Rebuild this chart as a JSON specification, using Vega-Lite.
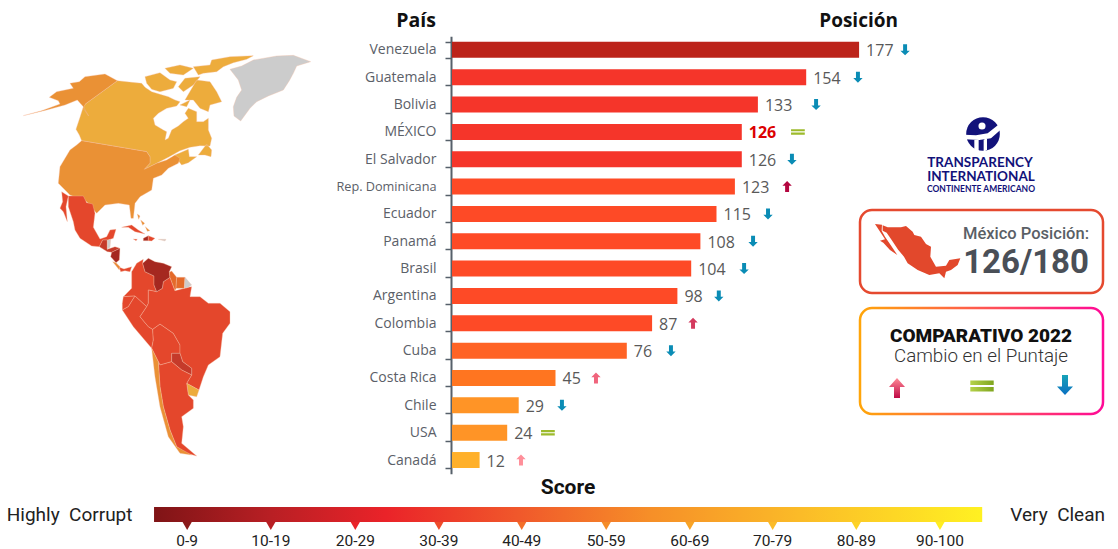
{
"$schema":"https://vega.github.io/schema/vega-lite/v6.json",
"width":1118,"height":549,"autosize":{"type":"none"},"padding":0,"background":"white",
"config":{"view":{"stroke":null}},
"resolve":{"scale":{"x":"independent","y":"independent","color":"independent","shape":"independent"}},
"layer":[
{"data":{"values":[
{"type":"Feature","properties":{"nombre":"Groenlandia","tono":"s/d"},"geometry":{"type":"Polygon","coordinates":[[[690,88],[725,78],[760,60],[830,48],[880,46],[932,65],[890,78],[880,100],[868,122],[850,150],[805,168],[770,185],[750,205],[722,243],[702,228],[700,200],[710,172],[725,150],[715,120],[690,88]]]}},
{"type":"Feature","properties":{"nombre":"Canadá","tono":"70-79"},"geometry":{"type":"MultiPolygon","coordinates":[
[[[352,122],[395,127],[425,130],[435,142],[455,155],[480,163],[505,170],[525,180],[540,185],[530,198],[500,205],[475,220],[460,235],[465,255],[490,270],[500,275],[495,300],[505,295],[515,270],[535,258],[550,245],[565,235],[555,220],[565,205],[590,215],[590,245],[610,245],[625,235],[625,270],[635,295],[630,318],[600,317],[570,322],[540,332],[505,352],[470,370],[433,388],[450,370],[450,350],[440,335],[245,302],[238,285],[228,268],[240,232],[250,200],[256,192],[352,122]]],
[[[525,345],[565,328],[568,350],[590,350],[565,368],[545,375],[535,362],[525,345]]],
[[[595,345],[620,312],[635,330],[633,350],[615,345],[595,345]]],
[[[435,110],[480,98],[510,120],[530,125],[520,145],[480,155],[455,148],[440,130],[435,110]]],
[[[495,85],[540,75],[580,85],[550,105],[510,100],[495,85]]],
[[[555,115],[600,110],[580,135],[550,155],[535,140],[555,115]]],
[[[590,120],[630,125],[650,155],[665,185],[630,195],[625,215],[600,205],[580,180],[555,180],[590,120]]],
[[[540,195],[570,180],[560,200],[540,195]]],
[[[580,80],[630,75],[635,60],[690,50],[760,47],[740,58],[700,68],[670,80],[650,95],[610,100],[595,105],[580,80]]]
]}},
{"type":"Feature","properties":{"nombre":"Alaska","tono":"60-69"},"geometry":{"type":"Polygon","coordinates":[[[352,122],[315,102],[255,110],[238,125],[210,130],[220,145],[170,155],[148,172],[175,182],[180,192],[125,212],[70,227],[140,210],[195,195],[232,180],[250,200],[266,228],[250,205],[256,192],[352,122]]]}},
{"type":"Feature","properties":{"nombre":"USA","tono":"60-69"},"geometry":{"type":"Polygon","coordinates":[[[245,302],[440,335],[450,350],[450,370],[433,388],[470,370],[500,360],[525,345],[540,355],[535,370],[505,385],[485,405],[460,415],[455,450],[420,470],[405,490],[400,535],[393,535],[388,495],[355,490],[315,495],[290,520],[260,485],[210,465],[175,430],[180,380],[210,330],[230,315],[245,302]]]}},
{"type":"Feature","properties":{"nombre":"México","tono":"30-39"},"geometry":{"type":"MultiPolygon","coordinates":[[[[205,468],[250,468],[260,488],[278,492],[285,520],[280,562],[300,597],[320,590],[330,570],[348,568],[340,595],[325,600],[308,600],[298,620],[275,618],[240,595],[225,570],[220,545],[205,500],[205,468]]],[[[185,455],[205,468],[198,500],[202,545],[190,515],[180,505],[188,485],[185,455]]]]}},
{"type":"Feature","properties":{"nombre":"Guatemala","tono":"20-29"},"geometry":{"type":"Polygon","coordinates":[[[298,620],[308,600],[322,600],[322,628],[345,620],[360,625],[335,637],[322,635],[298,620]]]}},
{"type":"Feature","properties":{"nombre":"Belice","tono":"s/d"},"geometry":{"type":"Polygon","coordinates":[[[322,600],[332,598],[330,622],[322,628],[322,600]]]}},
{"type":"Feature","properties":{"nombre":"Nicaragua","tono":"10-19"},"geometry":{"type":"Polygon","coordinates":[[[335,637],[360,625],[358,660],[348,668],[332,650],[335,637]]]}},
{"type":"Feature","properties":{"nombre":"Costa Rica","tono":"50-59"},"geometry":{"type":"Polygon","coordinates":[[[338,665],[348,668],[360,680],[358,690],[338,665]]]}},
{"type":"Feature","properties":{"nombre":"Panamá","tono":"30-39"},"geometry":{"type":"Polygon","coordinates":[[[358,682],[372,687],[395,680],[390,695],[375,692],[362,695],[358,682]]]}},
{"type":"Feature","properties":{"nombre":"Cuba","tono":"30-39"},"geometry":{"type":"Polygon","coordinates":[[[365,562],[395,555],[415,570],[435,582],[405,575],[385,562],[365,562]]]}},
{"type":"Feature","properties":{"nombre":"Jamaica","tono":"30-39"},"geometry":{"type":"Polygon","coordinates":[[[400,597],[412,598],[408,602],[400,597]]]}},
{"type":"Feature","properties":{"nombre":"Haití","tono":"10-19"},"geometry":{"type":"Polygon","coordinates":[[[430,595],[445,587],[445,602],[430,602],[430,595]]]}},
{"type":"Feature","properties":{"nombre":"Rep. Dominicana","tono":"30-39"},"geometry":{"type":"Polygon","coordinates":[[[445,587],[465,595],[455,603],[445,602],[445,587]]]}},
{"type":"Feature","properties":{"nombre":"Puerto Rico","tono":"s/d"},"geometry":{"type":"Polygon","coordinates":[[[475,598],[498,598],[495,603],[475,598]]]}},
{"type":"Feature","properties":{"nombre":"Bahamas","tono":"60-69"},"geometry":{"type":"MultiPolygon","coordinates":[[[[412,522],[420,528],[416,538],[412,522]]],[[[422,540],[434,550],[428,556],[422,540]]],[[[436,560],[450,572],[442,574],[436,560]]]]}},
{"type":"Feature","properties":{"nombre":"Colombia","tono":"30-39"},"geometry":{"type":"Polygon","coordinates":[[[395,695],[410,670],[430,658],[428,670],[435,695],[462,708],[462,735],[470,755],[445,750],[445,790],[440,800],[405,768],[370,770],[395,745],[395,695]]]}},
{"type":"Feature","properties":{"nombre":"Ecuador","tono":"30-39"},"geometry":{"type":"Polygon","coordinates":[[[370,770],[405,768],[385,800],[367,810],[367,790],[370,770]]]}},
{"type":"Feature","properties":{"nombre":"Perú","tono":"30-39"},"geometry":{"type":"Polygon","coordinates":[[[367,810],[385,800],[405,768],[440,800],[420,830],[445,860],[458,868],[460,900],[455,925],[400,860],[367,810]]]}},
{"type":"Feature","properties":{"nombre":"Bolivia","tono":"30-39"},"geometry":{"type":"Polygon","coordinates":[[[458,868],[480,852],[520,880],[540,915],[540,940],[515,940],[515,965],[480,975],[475,965],[455,925],[460,900],[458,868]]]}},
{"type":"Feature","properties":{"nombre":"Brasil","tono":"30-39"},"geometry":{"type":"Polygon","coordinates":[[[445,790],[445,750],[470,755],[487,745],[490,725],[510,712],[525,752],[565,742],[575,740],[570,770],[600,770],[625,790],[660,790],[690,815],[690,850],[668,880],[660,950],[625,975],[610,1010],[597,1050],[560,1030],[575,1005],[575,985],[548,965],[540,940],[540,915],[520,880],[480,852],[458,868],[445,860],[420,830],[440,800],[445,790]]]}},
{"type":"Feature","properties":{"nombre":"Venezuela","tono":"10-19"},"geometry":{"type":"Polygon","coordinates":[[[428,670],[445,655],[465,665],[490,670],[515,680],[508,695],[510,712],[490,725],[487,745],[470,755],[462,735],[462,708],[435,695],[428,670]]]}},
{"type":"Feature","properties":{"nombre":"Guyana","tono":"40-49"},"geometry":{"type":"Polygon","coordinates":[[[515,693],[530,712],[528,745],[525,752],[510,712],[508,697],[515,693]]]}},
{"type":"Feature","properties":{"nombre":"Surinam","tono":"40-49"},"geometry":{"type":"Polygon","coordinates":[[[530,712],[555,712],[553,745],[528,745],[530,712]]]}},
{"type":"Feature","properties":{"nombre":"Guayana Francesa","tono":"s/d"},"geometry":{"type":"Polygon","coordinates":[[[555,712],[575,735],[565,742],[553,745],[555,712]]]}},
{"type":"Feature","properties":{"nombre":"Paraguay","tono":"20-29"},"geometry":{"type":"Polygon","coordinates":[[[515,940],[540,940],[548,965],[575,985],[575,1005],[545,990],[515,965],[515,940]]]}},
{"type":"Feature","properties":{"nombre":"Uruguay","tono":"70-79"},"geometry":{"type":"Polygon","coordinates":[[[560,1030],[597,1050],[590,1070],[565,1065],[560,1030]]]}},
{"type":"Feature","properties":{"nombre":"Argentina","tono":"30-39"},"geometry":{"type":"Polygon","coordinates":[[[480,975],[515,965],[545,990],[575,1005],[560,1030],[565,1065],[580,1080],[580,1105],[545,1130],[550,1160],[545,1210],[590,1248],[560,1240],[530,1220],[510,1170],[490,1100],[480,1040],[475,965],[480,975]]]}},
{"type":"Feature","properties":{"nombre":"Chile","tono":"60-69"},"geometry":{"type":"Polygon","coordinates":[[[455,925],[475,965],[480,1040],[490,1100],[510,1170],[530,1220],[575,1245],[540,1240],[505,1190],[480,1100],[465,1010],[455,925]]]}}
]},
"mark":{"type":"geoshape","stroke":"#f6c0a4","strokeWidth":0.35},
"projection":{"type":"identity","scale":0.33333,"translate":[0,40]},
"encoding":{"color":{"field":"properties.tono","type":"nominal","legend":null,"scale":{"domain":["10-19","20-29","30-39","40-49","50-59","60-69","70-79","s/d"],"range":["#a52820","#c53a2a","#e4472c","#e46a2a","#e88a35","#ea9135","#edac3c","#cccccc"]}}}
},
{"data":{"values":[
{"pais":"Venezuela","posicion":177,"nivel":"a","cambio":"baja","tono":"baja","flecha":197},
{"pais":"Guatemala","posicion":154,"nivel":"b","cambio":"baja","tono":"baja","flecha":176.5},
{"pais":"Bolivia","posicion":133,"nivel":"b","cambio":"baja","tono":"baja","flecha":158.3},
{"pais":"MÉXICO","posicion":126,"nivel":"b","cambio":"igual","tono":"igual","flecha":150.4},
{"pais":"El Salvador","posicion":126,"nivel":"b","cambio":"baja","tono":"baja","flecha":147.8},
{"pais":"Rep. Dominicana","posicion":123,"nivel":"c","cambio":"sube","tono":"sube1","flecha":145.7},
{"pais":"Ecuador","posicion":115,"nivel":"c","cambio":"baja","tono":"baja","flecha":137.4},
{"pais":"Panamá","posicion":108,"nivel":"c","cambio":"baja","tono":"baja","flecha":130.9},
{"pais":"Brasil","posicion":104,"nivel":"c","cambio":"baja","tono":"baja","flecha":127},
{"pais":"Argentina","posicion":98,"nivel":"c","cambio":"baja","tono":"baja","flecha":116},
{"pais":"Colombia","posicion":87,"nivel":"c","cambio":"sube","tono":"sube2","flecha":104.8},
{"pais":"Cuba","posicion":76,"nivel":"d","cambio":"baja","tono":"baja","flecha":95.2},
{"pais":"Costa Rica","posicion":45,"nivel":"e","cambio":"sube","tono":"sube3","flecha":62.6},
{"pais":"Chile","posicion":29,"nivel":"f","cambio":"baja","tono":"baja","flecha":47.8},
{"pais":"USA","posicion":24,"nivel":"f","cambio":"igual","tono":"igual","flecha":41.7},
{"pais":"Canadá","posicion":12,"nivel":"g","cambio":"sube","tono":"sube4","flecha":30}
]},
"resolve":{"scale":{"color":"independent"}},
"encoding":{"y":{"field":"pais","type":"nominal","sort":null,"scale":{"range":[36.2,473.7],"paddingInner":0.415,"paddingOuter":0.2075},
"axis":{"orient":"left","offset":-451,"title":null,"tickBand":"extent","domainColor":"#56606a","domainWidth":2,"tickColor":"#56606a","tickWidth":1.5,"tickSize":6,"labelColor":"#5b6068","labelFont":"Open Sans","labelFontSize":{"condition":{"test":"datum.value=='Rep. Dominicana'","value":12.7},"value":14},"labelPadding":9,"labelLimit":200,"grid":false,
"encoding":{"labels":{"update":{"dx":[{"test":"datum.value=='Rep. Dominicana'","value":-5.5},{"value":0}]}}}}}},
"layer":[
{"mark":{"type":"bar"},"encoding":{"x":{"field":"posicion","type":"quantitative","scale":{"domain":[0,289.57],"range":[452,1118],"nice":false},"axis":null},
"color":{"field":"nivel","type":"nominal","legend":null,"scale":{"domain":["a","b","c","d","e","f","g"],"range":["#bc231a","#f5352a","#fe4a26","#ff6325","#ff7520","#ff9426","#ffb02a"]}}}},
{"transform":[{"filter":"datum.pais!='MÉXICO'"}],"mark":{"type":"text","align":"left","baseline":"middle","dx":7,"dy":1.5,"font":"Open Sans","fontSize":16,"color":"#595959"},"encoding":{"x":{"field":"posicion","type":"quantitative"},"text":{"field":"posicion","type":"quantitative"}}},
{"transform":[{"filter":"datum.pais=='MÉXICO'"}],"mark":{"type":"text","align":"left","baseline":"middle","dx":7,"dy":1.5,"font":"Open Sans","fontWeight":"bold","fontSize":16,"color":"#dc0000"},"encoding":{"x":{"field":"posicion","type":"quantitative"},"text":{"field":"posicion","type":"quantitative"}}},
{"mark":{"type":"point","filled":true,"opacity":1,"size":121},"encoding":{"x":{"field":"flecha","type":"quantitative"},
"shape":{"field":"cambio","type":"nominal","legend":null,"scale":{"domain":["baja","igual","sube"],"range":["M-0.36,-1L0.36,-1L0.36,0.15L0.85,0.15L0,1L-0.85,0.15L-0.36,0.15Z","M-1.25,-0.5H1.25V-0.1H-1.25ZM-1.25,0.1H1.25V0.5H-1.25Z","M-0.36,1L0.36,1L0.36,-0.15L0.85,-0.15L0,-1L-0.85,-0.15L-0.36,-0.15Z"]}},
"color":{"field":"tono","type":"nominal","legend":null,"scale":{"domain":["baja","igual","sube1","sube2","sube3","sube4"],"range":["#0a8cb5","#9dbb2c","#b3063f","#d43a5e","#f0647c","#ff8f9a"]}}}}
]},
{"data":{"values":[
{"rango":"0-9","medio":4},{"rango":"10-19","medio":14.1},{"rango":"20-29","medio":24.3},{"rango":"30-39","medio":34.4},{"rango":"40-49","medio":44.4},{"rango":"50-59","medio":54.6},{"rango":"60-69","medio":64.7},{"rango":"70-79","medio":74.7},{"rango":"80-89","medio":84.8},{"rango":"90-100","medio":94.9}
]},
"layer":[
{"mark":{"type":"rect","fill":{"gradient":"linear","x1":0,"x2":1,"y1":0,"y2":0,"stops":[{"offset":0,"color":"#7f1416"},{"offset":0.14,"color":"#b81f24"},{"offset":0.28,"color":"#ea2329"},{"offset":0.44,"color":"#f0582b"},{"offset":0.6,"color":"#f68f28"},{"offset":0.78,"color":"#fbbb28"},{"offset":1,"color":"#fff122"}]}},
"transform":[{"filter":"datum.rango=='0-9'"}],
"encoding":{"x":{"datum":0,"type":"quantitative","scale":{"domain":[-18.6,116.4],"range":[0,1118],"nice":false},"axis":null},"x2":{"datum":100},
"y":{"datum":507,"type":"quantitative","scale":{"domain":[0,549],"range":[0,549],"nice":false},"axis":null},"y2":{"datum":522}}},
{"mark":{"type":"point","shape":"triangle-down","filled":true,"opacity":1,"size":85},"encoding":{"x":{"field":"medio","type":"quantitative"},"y":{"datum":526,"type":"quantitative"},
"color":{"field":"medio","type":"quantitative","legend":null,"scale":{"domain":[4,14.1,24.3,34.4,44.4,54.6,64.7,74.7,84.8,94.9],"range":["#8b1a1a","#b81f24","#ea2329","#ef4c2b","#f36f2a","#f58c28","#f8a427","#fbbb28","#fdd225","#ffee22"]}}}},
{"mark":{"type":"text","font":"Roboto","fontSize":15.5,"color":"#222222","baseline":"middle"},"encoding":{"x":{"field":"medio","type":"quantitative"},"y":{"datum":540.5,"type":"quantitative"},"text":{"field":"rango"}}},
{"data":{"values":[{"texto":"Highly\u00a0 Corrupt","pos":-2.6}]},"mark":{"type":"text","font":"Roboto","fontSize":19,"color":"#222222","align":"right","baseline":"middle"},"encoding":{"x":{"field":"pos","type":"quantitative"},"y":{"datum":515,"type":"quantitative"},"text":{"field":"texto"}}},
{"data":{"values":[{"texto":"Very\u00a0 Clean","pos":103.4}]},"mark":{"type":"text","font":"Roboto","fontSize":19,"color":"#222222","align":"left","baseline":"middle"},"encoding":{"x":{"field":"pos","type":"quantitative"},"y":{"datum":515,"type":"quantitative"},"text":{"field":"texto"}}}
]},
{"data":{"values":[{"nota":""}]},
"layer":[
{"mark":{"type":"rect","cornerRadius":12,"fill":"white","stroke":"#e5492f","strokeWidth":2.5},"encoding":{"x":{"datum":860,"type":"quantitative","scale":{"domain":[0,1118],"range":[0,1118],"nice":false},"axis":null},"x2":{"datum":1103},"y":{"datum":210,"type":"quantitative","scale":{"domain":[0,549],"range":[0,549],"nice":false},"axis":null},"y2":{"datum":293}}},
{"mark":{"type":"rect","cornerRadius":12,"fill":"white","strokeWidth":2.5,"stroke":{"gradient":"linear","x1":0,"x2":1,"y1":0,"y2":0,"stops":[{"offset":0,"color":"#ffa50a"},{"offset":1,"color":"#ff0a96"}]}},"encoding":{"x":{"datum":860,"type":"quantitative"},"x2":{"datum":1103},"y":{"datum":308,"type":"quantitative"},"y2":{"datum":414}}},
{"mark":{"type":"text","text":"País","font":"Open Sans","fontWeight":"bold","fontSize":19.5,"color":"#111111","align":"right","baseline":"middle"},"encoding":{"x":{"datum":436,"type":"quantitative"},"y":{"datum":20.5,"type":"quantitative"}}},
{"mark":{"type":"text","text":"Posición","font":"Open Sans","fontWeight":"bold","fontSize":19,"color":"#111111","align":"right","baseline":"middle"},"encoding":{"x":{"datum":898,"type":"quantitative"},"y":{"datum":20.5,"type":"quantitative"}}},
{"mark":{"type":"text","text":"Score","font":"Roboto","fontWeight":"bold","fontSize":21,"color":"#111111","baseline":"middle"},"encoding":{"x":{"datum":568,"type":"quantitative"},"y":{"datum":488,"type":"quantitative"}}},
{"mark":{"type":"text","text":"México Posición:","font":"Roboto","fontWeight":500,"fontSize":16.5,"color":"#5a5f66","align":"right","baseline":"middle"},"encoding":{"x":{"datum":1089,"type":"quantitative"},"y":{"datum":234,"type":"quantitative"}}},
{"mark":{"type":"text","text":"126/180","font":"Roboto","fontWeight":"bold","fontSize":33,"color":"#4a4f57","align":"right","baseline":"middle"},"encoding":{"x":{"datum":1089,"type":"quantitative"},"y":{"datum":263,"type":"quantitative"}}},
{"mark":{"type":"text","text":"COMPARATIVO 2022","font":"Roboto","fontWeight":900,"fontSize":19,"color":"#111111","baseline":"middle"},"encoding":{"x":{"datum":981,"type":"quantitative"},"y":{"datum":335.5,"type":"quantitative"}}},
{"mark":{"type":"text","text":"Cambio en el Puntaje","font":"Roboto","fontWeight":300,"fontSize":18.8,"color":"#333333","baseline":"middle"},"encoding":{"x":{"datum":981,"type":"quantitative"},"y":{"datum":356,"type":"quantitative"}}},
{"mark":{"type":"point","filled":true,"opacity":1,"size":400,"shape":"M-0.3,1L0.3,1L0.3,-0.1L0.8,-0.1L0,-1L-0.8,-0.1L-0.3,-0.1Z","fill":{"gradient":"linear","x1":0,"x2":0,"y1":0,"y2":1,"stops":[{"offset":0,"color":"#ff8a96"},{"offset":1,"color":"#bf0a46"}]}},"encoding":{"x":{"datum":897,"type":"quantitative"},"y":{"datum":388,"type":"quantitative"}}},
{"mark":{"type":"point","filled":true,"opacity":1,"size":324,"shape":"M-1.3,-0.62H1.3V-0.12H-1.3ZM-1.3,0.12H1.3V0.62H-1.3Z","fill":{"gradient":"linear","x1":0,"x2":1,"y1":0,"y2":0,"stops":[{"offset":0,"color":"#b5d24a"},{"offset":1,"color":"#7fa51e"}]}},"encoding":{"x":{"datum":982,"type":"quantitative"},"y":{"datum":386,"type":"quantitative"}}},
{"mark":{"type":"point","filled":true,"opacity":1,"size":400,"shape":"M-0.3,-1L0.3,-1L0.3,0.15L0.8,0.15L0,1L-0.8,0.15L-0.3,0.15Z","fill":{"gradient":"linear","x1":0,"x2":0,"y1":0,"y2":1,"stops":[{"offset":0,"color":"#17a3b8"},{"offset":1,"color":"#0a6fc2"}]}},"encoding":{"x":{"datum":1065,"type":"quantitative"},"y":{"datum":385,"type":"quantitative"}}},
{"mark":{"type":"text","text":"TRANSPARENCY","font":"Lato","fontWeight":"bold","fontSize":13.5,"color":"#12127a","baseline":"middle"},"encoding":{"x":{"datum":980,"type":"quantitative"},"y":{"datum":163,"type":"quantitative"}}},
{"mark":{"type":"text","text":"INTERNATIONAL","font":"Lato","fontWeight":"bold","fontSize":13.5,"color":"#12127a","baseline":"middle"},"encoding":{"x":{"datum":981,"type":"quantitative"},"y":{"datum":177,"type":"quantitative"}}},
{"mark":{"type":"text","text":"CONTINENTE AMERICANO","font":"Lato","fontWeight":"bold","fontSize":8.5,"color":"#12127a","baseline":"middle"},"encoding":{"x":{"datum":981,"type":"quantitative"},"y":{"datum":188.5,"type":"quantitative"}}},
{"mark":{"type":"point","shape":"circle","filled":true,"opacity":1,"size":1134,"color":"#12127a"},"encoding":{"x":{"datum":983,"type":"quantitative"},"y":{"datum":134,"type":"quantitative"}}},
{"mark":{"type":"point","shape":"circle","filled":true,"opacity":1,"size":50,"color":"white"},"encoding":{"x":{"datum":982,"type":"quantitative"},"y":{"datum":126,"type":"quantitative"}}}
]},
{"data":{"values":[
{"type":"Feature","properties":{"pieza":"mexico"},"geometry":{"type":"MultiPolygon","coordinates":[[[[2648,556],[2663,562],[2703,562],[2718,558],[2738,575],[2743,585],[2763,590],[2778,612],[2793,620],[2791,650],[2808,680],[2838,677],[2848,660],[2881,655],[2873,675],[2853,690],[2838,695],[2833,715],[2818,700],[2788,705],[2753,690],[2723,670],[2712,650],[2695,630],[2675,600],[2660,578],[2648,572],[2648,556]]],[[[2625,552],[2646,554],[2645,572],[2655,590],[2672,615],[2692,645],[2670,630],[2650,608],[2640,602],[2655,598],[2625,552]]]]}},
{"type":"Feature","properties":{"pieza":"logo"},"geometry":{"type":"MultiPolygon","coordinates":[[[[2893,284],[2928,286],[2963,280],[2998,252],[3001,270],[2973,295],[2938,300],[2895,298],[2893,284]]],[[[2923,300],[2936,300],[2936,335],[2923,330],[2923,300]]],[[[2951,300],[2961,294],[2961,330],[2951,335],[2951,300]]]]}}
]},
"mark":{"type":"geoshape","strokeWidth":0},
"projection":{"type":"identity","scale":0.33333,"translate":[0,40.001]},
"encoding":{"color":{"field":"properties.pieza","type":"nominal","legend":null,"scale":{"domain":["mexico","logo"],"range":["#e2482c","#ffffff"]}}}
}
]
}
